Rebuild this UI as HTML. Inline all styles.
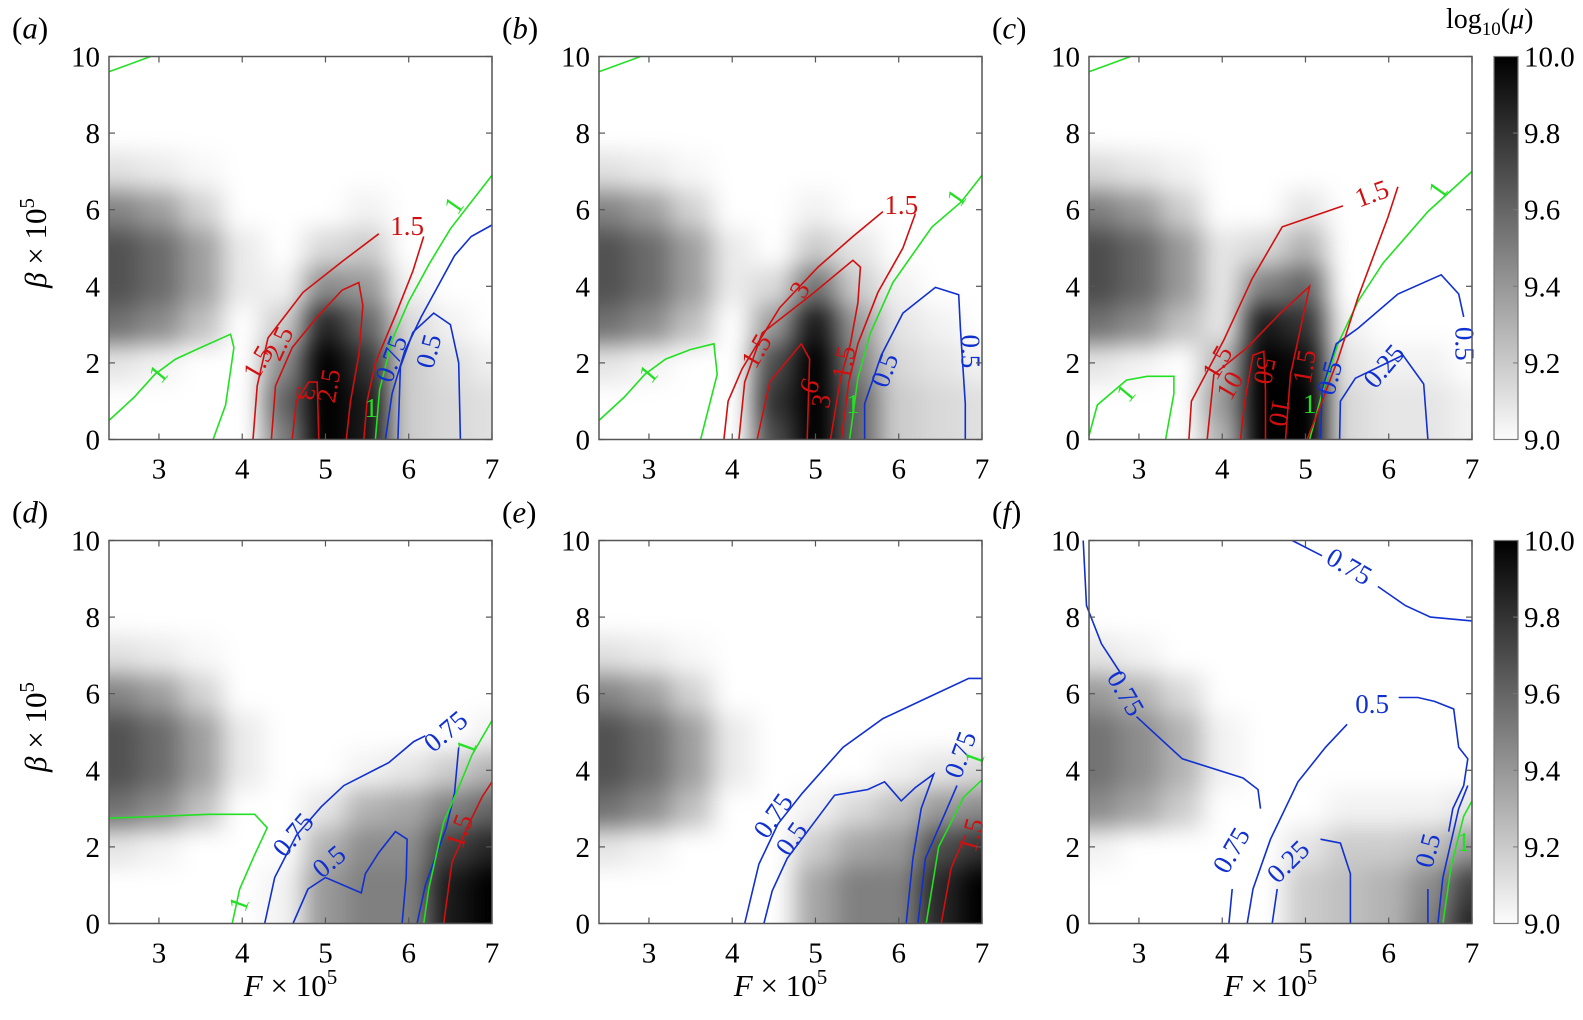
<!DOCTYPE html>
<html><head><meta charset="utf-8">
<style>
html,body{margin:0;padding:0;background:#fff;}
#wrap{position:relative;width:1583px;height:1020px;overflow:hidden;background:#fff;}
canvas{position:absolute;}
svg{position:absolute;left:0;top:0;font-family:"Liberation Serif","Times New Roman",Times,"DejaVu Serif",serif;}
svg text{font-family:"Liberation Serif","Times New Roman",Times,"DejaVu Serif",serif;}
</style></head>
<body>
<div id="wrap">
<svg id="svg" width="1583" height="1020"></svg>
</div>
<script>
const xTicks=[3,4,5,6,7];
const yTicks=[0,2,4,6,8,10];
const cbTicks=["9.0","9.2","9.4","9.6","9.8","10.0"];
const panelLetters=["a","b","c","d","e","f"];
const gridX=[2.5,3,3.5,4,4.5,5,5.5,6,6.5,7];
const gridY=[0,1,2,3,4,5,6,7,8,9,10];
const Z0=[0,0,0,0,0,0,0,0,0,0];
const heatA=[[0,0,0,0,0.5,1,0.9,0.2,0.15,0.12],[0,0,0,0,0.6,1,0.9,0.2,0.15,0.12],[0.1,0.05,0,0,0.45,1,0.8,0.2,0.12,0.06],[0.55,0.45,0.25,0,0.2,0.85,0.6,0.15,0.05,0],[0.68,0.58,0.38,0.08,0.05,0.45,0.4,0.05,0,0],[0.68,0.58,0.38,0.08,0,0.15,0.2,0,0,0],[0.48,0.38,0.18,0,0,0,0.05,0,0,0],[0.12,0.08,0.03,0,0,0,0,0,0,0],Z0,Z0,Z0];
const heatB=[[0,0,0,0,0.7,1,0.6,0.2,0.15,0.12],[0,0,0,0,0.8,1,0.6,0.2,0.15,0.12],[0.1,0.05,0,0,0.7,1,0.5,0.15,0.1,0.05],[0.55,0.45,0.25,0,0.4,0.9,0.4,0.1,0.05,0],[0.68,0.58,0.38,0.08,0.15,0.55,0.2,0.05,0,0],[0.68,0.58,0.38,0.08,0,0.2,0.1,0,0,0],[0.48,0.38,0.18,0,0,0.05,0,0,0,0],[0.12,0.08,0.03,0,0,0,0,0,0,0],Z0,Z0,Z0];
const heatC=[[0,0,0,0.3,1,1,0.15,0.1,0.1,0.05],[0,0,0,0.4,1,1,0.15,0.1,0.1,0.05],[0.1,0.05,0,0.3,1,0.95,0.1,0.05,0.05,0],[0.55,0.45,0.25,0.1,0.9,0.8,0.05,0,0,0],[0.7,0.6,0.4,0.1,0.5,0.6,0,0,0,0],[0.7,0.6,0.4,0.1,0.15,0.3,0,0,0,0],[0.5,0.4,0.2,0,0,0.1,0,0,0,0],[0.15,0.1,0.05,0,0,0,0,0,0,0],Z0,Z0,Z0];
const heatD=[[0,0,0,0,0.05,0.4,0.5,0.5,0.9,1],[0,0,0,0,0.05,0.4,0.5,0.5,0.9,1],[0.1,0.05,0,0,0,0.3,0.45,0.45,0.75,0.85],[0.55,0.45,0.25,0,0,0.1,0.3,0.35,0.5,0.6],[0.68,0.58,0.38,0.08,0,0,0.05,0.1,0.2,0.3],[0.68,0.58,0.38,0.08,0,0,0,0,0,0.05],[0.48,0.38,0.18,0,0,0,0,0,0,0],[0.12,0.08,0.03,0,0,0,0,0,0,0],Z0,Z0,Z0];
const heatE=[[0,0,0,0,0,0.35,0.5,0.5,0.85,1],[0,0,0,0,0,0.35,0.5,0.5,0.85,1],[0.1,0.05,0,0,0,0.2,0.35,0.4,0.7,0.8],[0.55,0.45,0.25,0,0,0.05,0.15,0.25,0.4,0.45],[0.68,0.58,0.38,0.08,0,0,0,0.05,0.1,0.15],[0.68,0.58,0.38,0.08,0,0,0,0,0,0],[0.48,0.38,0.18,0,0,0,0,0,0,0],[0.12,0.08,0.03,0,0,0,0,0,0,0],Z0,Z0,Z0];
const heatF=[[0,0,0,0,0,0.2,0.25,0.3,0.5,0.85],[0,0,0,0,0,0.2,0.25,0.3,0.45,0.75],[0.05,0,0,0,0,0.1,0.2,0.2,0.25,0.4],[0.45,0.35,0.2,0,0,0,0.05,0.05,0.05,0.1],[0.55,0.45,0.3,0.05,0,0,0,0,0,0],[0.55,0.45,0.3,0.05,0,0,0,0,0,0],[0.4,0.3,0.15,0,0,0,0,0,0,0],[0.1,0.05,0,0,0,0,0,0,0,0],Z0,Z0,Z0];

const G="#22e022",R="#d01010",B="#1030d0";
const aG1=[[2.4,9.6],[2.9,10]];
const aG2=[[2.4,0.5],[2.7,1.1],[2.95,1.7],[3.2,2.1],[3.5,2.4],[3.86,2.75],[3.9,2.4],[3.8,0.9],[3.65,0]];
const aG3=[[7,6.9],[6.75,6.2],[6.5,5.5],[6.25,4.6],[6.0,3.6],[5.8,2.6],[5.65,1.3],[5.6,0]];
const aB1=[[7,5.6],[6.75,5.3],[6.55,4.8],[6.35,4.0],[6.15,3.2],[5.95,2.3],[5.8,1.2],[5.72,0]];
const aB2=[[5.87,0],[5.9,1.9],[6.05,2.8],[6.3,3.3],[6.5,3.0],[6.6,2.0],[6.62,0]];
const aR1=[[4.13,0],[4.18,1.4],[4.31,2.65],[4.73,3.84],[5.22,4.68],[5.64,5.37]];
const aR1b=[[6.18,5.3],[6.05,4.4],[5.85,3.3],[5.6,2.0],[5.5,1.0],[5.46,0]];
const aR2=[[4.35,0],[4.4,1.4],[4.6,2.4],[4.9,3.2],[5.2,3.9],[5.4,4.1],[5.45,3.5],[5.4,2.2],[5.3,1],[5.25,0]];
const aR3=[[4.6,0],[4.65,1.0],[4.8,1.5],[4.9,1.5],[4.92,0]];
const bG2=[[2.4,0.5],[2.7,1.1],[2.95,1.7],[3.2,2.1],[3.5,2.35],[3.78,2.5],[3.82,1.7],[3.62,0]];
const bG3=[[7,6.9],[6.75,6.2],[6.4,5.55],[5.93,4.1],[5.66,2.78],[5.51,1.6],[5.41,0]];
const bB1=[[5.59,0],[5.59,0.93],[5.79,2.2],[6.05,3.3],[6.44,3.97],[6.72,3.78],[6.74,2.9],[6.8,0.93],[6.8,0]];
const bR1=[[3.9,0],[3.95,1.0],[4.12,1.85],[4.57,3.44],[5.03,4.5],[5.45,5.3],[5.81,5.95]];
const bR1b=[[6.2,5.9],[6.05,5.0],[5.75,3.84],[5.51,2.5],[5.4,1.5],[5.31,0]];
const bR2=[[4.08,0],[4.15,1.5],[4.36,2.78],[4.94,3.76],[5.45,4.68],[5.54,4.5],[5.51,3.57],[5.42,2.5],[5.3,1.6],[5.18,0]];
const bR3=[[4.3,0],[4.45,1.5],[4.83,2.5],[4.93,2.1],[4.9,0]];
const cG2=[[2.4,0.1],[2.5,0.9],[2.85,1.55],[3.1,1.65],[3.42,1.65],[3.42,1.2],[3.32,0]];
const cG3=[[7,7.0],[6.47,5.95],[5.93,4.6],[5.63,3.6],[5.39,2.5],[5.21,1.3],[5.05,0]];
const cB1=[[5.18,0],[5.2,1.3],[5.37,2.5],[5.63,2.9],[6.11,3.8],[6.63,4.3],[6.84,3.8],[6.9,3.2]];
const cB2=[[5.41,0],[5.42,1.0],[5.6,1.6],[6.17,2.2],[6.42,1.45],[6.47,0]];
const cR1=[[3.6,0],[3.63,1.0],[4.02,2.6],[4.36,4.2],[4.72,5.55],[5.45,6.1]];
const cR1b=[[6.11,6.6],[5.99,5.8],[5.63,3.7],[5.39,2.1],[5.2,1.0],[5.02,0]];
const cR2=[[3.82,0],[3.9,1.7],[4.3,2.4],[4.7,3.3],[5.05,4.0],[4.9,2.5],[4.82,1.7],[4.76,0]];
const cR3=[[4.22,0],[4.27,1.0],[4.37,2.2],[4.5,2.3],[4.52,1.3],[4.52,0]];
const dG1=[[2.4,2.75],[3.0,2.8],[3.6,2.85],[4.15,2.85],[4.3,2.5],[4.15,1.8],[3.97,0.9],[3.88,0]];
const dB1=[[4.27,0],[4.39,1.2],[4.65,2.3],[4.95,3.05],[5.22,3.6],[5.76,4.2],[6.06,4.75],[6.2,4.9]];
const dB1b=[[6.6,4.6],[6.55,3.4],[6.45,2.5],[6.2,1.0],[6.1,0]];
const dB2=[[4.61,0],[4.79,0.9],[5.0,1.2],[5.43,0.8],[5.48,1.3],[5.64,1.85],[5.84,2.4],[5.98,2.2],[5.97,1.2],[5.92,0]];
const dG2=[[6.18,0],[6.24,0.9],[6.42,2.65],[6.6,3.55],[6.76,4.4],[7,5.3]];
const dR1=[[6.42,0],[6.52,1.6],[6.7,2.5],[6.88,3.3],[7,3.7]];
const eB1=[[4.15,0],[4.32,1.55],[4.55,2.6],[4.84,3.4],[5.33,4.6],[5.81,5.35],[6.35,5.9],[6.84,6.4],[7,6.4]];
const eB2=[[4.38,0],[4.48,0.85],[4.66,1.7],[5.23,3.35],[5.63,3.5],[5.83,3.7],[6.03,3.2],[6.2,3.55],[6.42,3.9],[6.27,3.0],[6.17,1.7],[6.09,0]];
const eB3=[[6.23,0],[6.32,1.7],[6.56,2.9],[6.7,3.6]];
const eG1=[[6.33,0],[6.48,2.0],[6.78,3.3],[7,3.75]];
const eR1=[[6.51,0],[6.63,1.45],[6.8,2.3]];
const fB1=[[4.84,10],[5.2,9.6]];
const fB1b=[[5.87,8.8],[6.2,8.3],[6.5,8.0],[7,7.9]];
const fB2=[[2.33,10],[2.37,8.3],[2.55,7.3],[2.79,6.5]];
const fB2b=[[2.97,5.4],[3.52,4.3],[4.25,3.8],[4.43,3.5],[4.46,3.0]];
const fB2c=[[4.12,0.9],[4.08,0]];
const fB3=[[4.3,0],[4.37,0.9],[4.58,2.2],[4.91,3.7],[5.24,4.6],[5.5,5.2]];
const fB3b=[[6.12,5.9],[6.35,5.9],[6.55,5.8],[6.78,5.6],[6.84,4.6],[6.95,4.3],[6.9,3.6],[6.77,3.0],[6.72,2.4]];
const fB3c=[[6.47,0.9],[6.47,0]];
const fB4=[[4.6,0],[4.66,0.9]];
const fB4b=[[5.18,2.2],[5.42,2.1],[5.54,1.3],[5.54,0]];
const fB5=[[6.59,0],[6.65,1.2],[6.84,3.0],[6.95,3.6]];
const fG1=[[6.65,0],[6.75,1.5],[6.9,2.8],[7,3.2]];

const panels=[
 {heat:heatA,lines:[[aG1,G],[aG2,G],[aG3,G],[aB1,B],[aB2,B],[aR1,R],[aR1b,R],[aR2,R],[aR3,R]],
  labels:[[5.98,5.55,"1.5",R,0],[6.55,6.1,"1",G,-55],[4.2,2.0,"1.5",R,-60],[4.45,2.5,"2.5",R,-65],[3.0,1.7,"1",G,-50],[5.05,1.4,"2.5",R,-80],[4.75,1.2,"3",R,100],[5.55,0.8,"1",G,0],[5.8,2.1,"0.75",B,-70],[6.25,2.3,"0.5",B,-75]]},
 {heat:heatB,lines:[[aG1,G],[bG2,G],[bG3,G],[bB1,B],[bR1,R],[bR1b,R],[bR2,R],[bR3,R]],
  labels:[[6.03,6.1,"1.5",R,0],[6.7,6.3,"1",G,-55],[4.3,2.3,"1.5",R,-60],[4.82,3.9,"3",R,-60],[3.0,1.7,"1",G,-50],[4.92,1.4,"9",R,110],[5.08,1.0,"3",R,-80],[5.35,2.0,"1.5",R,-80],[5.45,0.9,"1",G,0],[5.84,1.8,"0.5",B,-70],[6.85,2.3,"0.5",B,90]]},
 {heat:heatC,lines:[[aG1,G],[cG2,G],[cG3,G],[cB1,B],[cB2,B],[cR1,R],[cR1b,R],[cR2,R],[cR3,R]],
  labels:[[5.8,6.4,"1.5",R,-20],[6.6,6.5,"1",G,-55],[3.95,2.0,"1.5",R,-60],[4.1,1.4,"10",R,-60],[2.85,1.2,"1",G,-50],[4.5,1.8,"50",R,100],[4.68,0.7,"10",R,100],[5.0,1.9,"1.5",R,-80],[5.05,0.9,"1",G,0],[5.3,1.6,"0.5",B,-75],[5.95,1.9,"0.25",B,-50],[6.9,2.5,"0.5",B,90]]},
 {heat:heatD,lines:[[dG1,G],[dB1,B],[dB1b,B],[dB2,B],[dG2,G],[dR1,R]],
  labels:[[6.45,5.0,"0.75",B,-40],[4.62,2.3,"0.75",B,-50],[3.97,0.5,"1",G,-70],[5.05,1.6,"0.5",B,-40],[6.7,4.6,"1",G,-70],[6.62,2.4,"1.5",R,-70]]},
 {heat:heatE,lines:[[eB1,B],[eB2,B],[eB3,B],[eG1,G],[eR1,R]],
  labels:[[4.5,2.8,"0.75",B,-55],[4.72,2.2,"0.5",B,-55],[6.75,4.4,"0.75",B,-70],[6.92,4.3,"1",G,-70],[6.88,2.3,"1.5",R,-75]]},
 {heat:heatF,lines:[[fB1,B],[fB1b,B],[fB2,B],[fB2b,B],[fB2c,B],[fB3,B],[fB3b,B],[fB3c,B],[fB4,B],[fB4b,B],[fB5,B],[fG1,G]],
  labels:[[5.52,9.3,"0.75",B,30],[2.83,6.0,"0.75",B,60],[4.12,1.9,"0.75",B,-60],[5.8,5.7,"0.5",B,0],[4.8,1.6,"0.25",B,-45],[6.48,1.9,"0.5",B,-75],[6.9,2.1,"1",G,0]]}
];

const X0=[109,599,1089], Y0=[56.5,540.5], W=383, H=383;
const XMIN=2.4, XMAX=7, YMIN=0, YMAX=10;
function sx(c,x){return X0[c]+(x-XMIN)/(XMAX-XMIN)*W;}
function sy(r,y){return Y0[r]+H-(y-YMIN)/(YMAX-YMIN)*H;}
const NS="http://www.w3.org/2000/svg";
const svg=document.getElementById('svg');
const wrap=document.getElementById('wrap');
const FF="'Liberation Serif', 'Times New Roman', Times, 'DejaVu Serif', serif";
function mk(tag,attrs,parent){const e=document.createElementNS(NS,tag);for(const k in attrs)e.setAttribute(k,attrs[k]);if(tag==='text')e.setAttribute('font-family',FF);(parent||svg).appendChild(e);return e;}

function sm(t){return t*t*(3-2*t);}
function sample(grid,x,y){
  let fx=(x-gridX[0])/(gridX[1]-gridX[0]); fx=Math.max(0,Math.min(gridX.length-1,fx));
  let fy=(y-gridY[0])/(gridY[1]-gridY[0]); fy=Math.max(0,Math.min(gridY.length-1,fy));
  const i=Math.min(Math.floor(fx),gridX.length-2), j=Math.min(Math.floor(fy),gridY.length-2);
  const tx=sm(fx-i), ty=sm(fy-j);
  const a=grid[j][i]*(1-tx)+grid[j][i+1]*tx, b=grid[j+1][i]*(1-tx)+grid[j+1][i+1]*tx;
  return a*(1-ty)+b*ty;
}

const PAD=30;
panels.forEach((p,k)=>{
  const c=k%3, r=Math.floor(k/3);
  const off=document.createElement('canvas');
  off.width=W+2*PAD;off.height=H+2*PAD;
  const octx=off.getContext('2d');const img=octx.createImageData(off.width,off.height);
  for(let py=0;py<off.height;py++){const y=YMAX-(py-PAD+0.5)/H*(YMAX-YMIN);
    for(let px=0;px<off.width;px++){const x=XMIN+(px-PAD+0.5)/W*(XMAX-XMIN);
      let v=sample(p.heat,x,y);v=Math.max(0,Math.min(1,v));
      const g=Math.round(255*(1-v));const o=(py*off.width+px)*4;
      img.data[o]=g;img.data[o+1]=g;img.data[o+2]=g;img.data[o+3]=255;}}
  octx.putImageData(img,0,0);
  const cv=document.createElement('canvas');
  
  
  cv.width=W;cv.height=H;cv.style.left=X0[c]+'px';cv.style.top=Y0[r]+'px';
  wrap.insertBefore(cv,svg);
  const ctx=cv.getContext('2d');
  ctx.filter='blur(7px)';
  ctx.drawImage(off,-PAD,-PAD);

  const grp=mk('g',{});
  
  
  p.lines.forEach((ln,li)=>{
    const d=ln[0].map((pt,i)=>(i?'L':'M')+sx(c,pt[0]).toFixed(1)+','+sy(r,pt[1]).toFixed(1)).join('');
    const pa=mk('path',{d:d,fill:'none',stroke:ln[1],'stroke-width':1.6},grp);
    
    
  });
  p.labels.forEach(lb=>{
    const X=sx(c,lb[0]),Y=sy(r,lb[1]);
    const t=mk('text',{x:X,y:Y+8,fill:lb[3],'font-size':27,'text-anchor':'middle',transform:'rotate('+lb[4]+' '+X+' '+Y+')'},grp);
    t.textContent=lb[2];
    
    
  });
  const fr=mk('rect',{x:X0[c],y:Y0[r],width:W,height:H,fill:'none',stroke:'#555','stroke-width':1.5},grp);
  
  
  xTicks.forEach(v=>{
    const X=sx(c,v);
    mk('line',{x1:X,x2:X,y1:Y0[r]+H,y2:Y0[r]+H-6,stroke:'#555','stroke-width':1.2},grp);
    mk('line',{x1:X,x2:X,y1:Y0[r],y2:Y0[r]+6,stroke:'#555','stroke-width':1.2},grp);
    const t=mk('text',{x:X,y:Y0[r]+H+39,'font-size':29,'text-anchor':'middle'},grp);
    t.textContent=v;
    
    
  });
  yTicks.forEach(v=>{
    const Y=sy(r,v);
    mk('line',{x1:X0[c],x2:X0[c]+6,y1:Y,y2:Y,stroke:'#555','stroke-width':1.2},grp);
    mk('line',{x1:X0[c]+W,x2:X0[c]+W-6,y1:Y,y2:Y,stroke:'#555','stroke-width':1.2},grp);
    const t=mk('text',{x:X0[c]-9,y:Y+10,'font-size':29,'text-anchor':'end'},grp);
    t.textContent=v;
    
    
  });
  const pl=mk('text',{x:X0[c]-97,y:Y0[r]-18,'font-size':31},grp);
  pl.innerHTML='(<tspan font-style="italic">'+panelLetters[k]+'</tspan>)';
  
  
  if(c===0){
    const cy=Y0[r]+H/2-5;
    const yt=mk('text',{x:0,y:0,'font-size':31,'text-anchor':'middle',transform:'translate(46 '+cy+') rotate(-90)'});
    yt.innerHTML='<tspan font-style="italic">β</tspan> × 10<tspan font-size="21" dy="-12">5</tspan>';
    
    
  }
  if(r===1){
    const xt=mk('text',{x:X0[c]+W/2-10,y:996,'font-size':31,'text-anchor':'middle'});
    xt.innerHTML='<tspan font-style="italic">F</tspan> × 10<tspan font-size="21" dy="-12">5</tspan>';
    
    
  }
});

const defs=mk('defs',{});
const lg=mk('linearGradient',{id:'cbg',x1:0,y1:0,x2:0,y2:1},defs);
mk('stop',{offset:0,'stop-color':'#000'},lg);
mk('stop',{offset:1,'stop-color':'#fcfcfc'},lg);
[0,1].forEach(r=>{
  const cb=mk('rect',{x:1494,y:Y0[r],width:24,height:H,fill:'url(#cbg)',stroke:'#777','stroke-width':1.2});
  
  
  cbTicks.forEach((lab,i)=>{
    const Y=Y0[r]+H-i/(cbTicks.length-1)*H;
    mk('line',{x1:1518,x2:1513,y1:Y,y2:Y,stroke:'#777','stroke-width':1});
    const t=mk('text',{x:1524,y:Y+10,'font-size':29});
    t.textContent=lab;
    
    
  });
});
const ct=mk('text',{x:1446,y:28,'font-size':28});
ct.innerHTML='log<tspan font-size="19" dy="7">10</tspan><tspan dy="-7">(</tspan><tspan font-style="italic">μ</tspan>)';


</script>
</body></html>
